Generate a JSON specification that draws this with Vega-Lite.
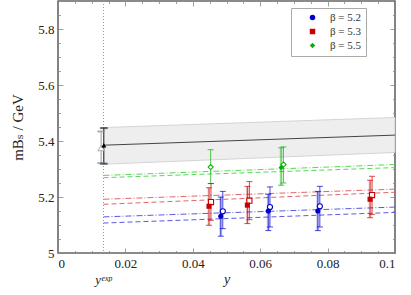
{
  "$schema": "https://vega.github.io/schema/vega-lite/v6.json",
  "width": 337,
  "height": 252,
  "autosize": {"type": "none"},
  "padding": {"left": 58, "top": 1, "right": 16, "bottom": 42},
  "datasets": {
    "pts": [
      {"beta": "β = 5.2", "kind": "filled", "x": 0.0483, "m": 5.131, "lo": 5.06, "hi": 5.20},
      {"beta": "β = 5.2", "kind": "filled", "x": 0.0624, "m": 5.150, "lo": 5.08, "hi": 5.21},
      {"beta": "β = 5.2", "kind": "filled", "x": 0.0771, "m": 5.150, "lo": 5.08, "hi": 5.22},
      {"beta": "β = 5.2", "kind": "open", "x": 0.0489, "m": 5.149, "lo": 5.087, "hi": 5.22},
      {"beta": "β = 5.2", "kind": "open", "x": 0.0629, "m": 5.164, "lo": 5.093, "hi": 5.236},
      {"beta": "β = 5.2", "kind": "open", "x": 0.0777, "m": 5.167, "lo": 5.093, "hi": 5.238},
      {"beta": "β = 5.3", "kind": "filled", "x": 0.0448, "m": 5.167, "lo": 5.099, "hi": 5.233},
      {"beta": "β = 5.3", "kind": "filled", "x": 0.0562, "m": 5.171, "lo": 5.105, "hi": 5.238},
      {"beta": "β = 5.3", "kind": "filled", "x": 0.0926, "m": 5.192, "lo": 5.126, "hi": 5.26},
      {"beta": "β = 5.3", "kind": "open", "x": 0.0454, "m": 5.182, "lo": 5.117, "hi": 5.248},
      {"beta": "β = 5.3", "kind": "open", "x": 0.0568, "m": 5.187, "lo": 5.119, "hi": 5.255},
      {"beta": "β = 5.3", "kind": "open", "x": 0.0932, "m": 5.207, "lo": 5.138, "hi": 5.274},
      {"beta": "β = 5.5", "kind": "filled", "x": 0.0662, "m": 5.305, "lo": 5.242, "hi": 5.376},
      {"beta": "β = 5.5", "kind": "open", "x": 0.0453, "m": 5.307, "lo": 5.248, "hi": 5.369},
      {"beta": "β = 5.5", "kind": "open", "x": 0.0669, "m": 5.316, "lo": 5.25, "hi": 5.379}
    ],
    "fits": [
      {"beta": "β = 5.2", "kind": "open", "x": 0.0135, "m": 5.129},
      {"beta": "β = 5.2", "kind": "open", "x": 0.1, "m": 5.164},
      {"beta": "β = 5.2", "kind": "filled", "x": 0.0135, "m": 5.107},
      {"beta": "β = 5.2", "kind": "filled", "x": 0.1, "m": 5.145},
      {"beta": "β = 5.3", "kind": "open", "x": 0.0135, "m": 5.192},
      {"beta": "β = 5.3", "kind": "open", "x": 0.1, "m": 5.228},
      {"beta": "β = 5.3", "kind": "filled", "x": 0.0135, "m": 5.174},
      {"beta": "β = 5.3", "kind": "filled", "x": 0.1, "m": 5.217},
      {"beta": "β = 5.5", "kind": "open", "x": 0.0135, "m": 5.277},
      {"beta": "β = 5.5", "kind": "open", "x": 0.1, "m": 5.316},
      {"beta": "β = 5.5", "kind": "filled", "x": 0.0135, "m": 5.269},
      {"beta": "β = 5.5", "kind": "filled", "x": 0.1, "m": 5.305}
    ],
    "band": [
      {"x": 0.0135, "m": 5.385, "lo": 5.317, "hi": 5.448},
      {"x": 0.1, "m": 5.421, "lo": 5.359, "hi": 5.484}
    ],
    "phys": [
      {"kind": "open", "x": 0.0128, "m": 5.375, "lo": 5.321, "hi": 5.434},
      {"kind": "filled", "x": 0.0136, "m": 5.385, "lo": 5.319, "hi": 5.446}
    ],
    "exp": [{"x": 0.0135, "m": 5, "label": "yᵉˣᵖ"}]
  },
  "layer": [
    {
      "data": {"name": "band"},
      "mark": {"type": "area", "fill": "#eeeeee", "stroke": "#cccccc", "strokeWidth": 0.8},
      "encoding": {
        "x": {"field": "x", "type": "quantitative", "scale": {"domain": [0, 0.1], "nice": false, "zero": false}, "axis": null},
        "y": {"field": "lo", "type": "quantitative", "scale": {"domain": [5, 5.9], "nice": false, "zero": false}, "axis": null},
        "y2": {"field": "hi"}
      }
    },
    {
      "data": {"name": "band"},
      "mark": {"type": "line", "color": "#444444", "strokeWidth": 1},
      "encoding": {
        "x": {"field": "x", "type": "quantitative", "axis": null},
        "y": {"field": "m", "type": "quantitative", "axis": null}
      }
    },
    {
      "data": {"name": "exp"},
      "mark": {"type": "rule", "color": "#999999", "strokeDash": [1, 2], "strokeWidth": 1},
      "encoding": {
        "x": {"field": "x", "type": "quantitative", "axis": null}
      }
    },
    {
      "data": {"name": "fits"},
      "mark": {"type": "line", "strokeWidth": 1},
      "encoding": {
        "x": {"field": "x", "type": "quantitative", "axis": null},
        "y": {"field": "m", "type": "quantitative", "axis": null},
        "stroke": {"condition": [{"test": "datum.beta == 'β = 5.2'", "value": "#5a5ae6"}, {"test": "datum.beta == 'β = 5.3'", "value": "#e06868"}], "value": "#58d858"},
        "strokeDash": {"condition": {"test": "datum.kind == 'open'", "value": [6, 2, 1, 2]}, "value": [5, 3]},
        "detail": [{"field": "beta"}, {"field": "kind"}]
      }
    },
    {
      "data": {"name": "pts"},
      "transform": [{"filter": "datum.kind == 'filled'"}],
      "mark": {"type": "rule", "strokeWidth": 3, "opacity": 0.22},
      "encoding": {
        "x": {"field": "x", "type": "quantitative", "axis": null},
        "y": {"field": "lo", "type": "quantitative", "axis": null},
        "y2": {"field": "hi"},
        "color": {"condition": [{"test": "datum.beta == 'β = 5.2'", "value": "#0000c8"}, {"test": "datum.beta == 'β = 5.3'", "value": "#c80000"}], "value": "#00b400"}
      }
    },
    {
      "data": {"name": "pts"},
      "mark": {"type": "rule", "strokeWidth": 1, "opacity": 0.7},
      "encoding": {
        "x": {"field": "x", "type": "quantitative", "axis": null},
        "y": {"field": "lo", "type": "quantitative", "axis": null},
        "y2": {"field": "hi"},
        "color": {"condition": [{"test": "datum.beta == 'β = 5.2'", "value": "#0000c8"}, {"test": "datum.beta == 'β = 5.3'", "value": "#c80000"}], "value": "#00b400"}
      }
    },
    {
      "data": {"name": "pts"},
      "mark": {"type": "tick", "orient": "horizontal", "size": 6, "thickness": 1, "opacity": 0.7},
      "encoding": {
        "x": {"field": "x", "type": "quantitative", "axis": null},
        "y": {"field": "lo", "type": "quantitative", "axis": null},
        "color": {"condition": [{"test": "datum.beta == 'β = 5.2'", "value": "#0000c8"}, {"test": "datum.beta == 'β = 5.3'", "value": "#c80000"}], "value": "#00b400"}
      }
    },
    {
      "data": {"name": "pts"},
      "mark": {"type": "tick", "orient": "horizontal", "size": 6, "thickness": 1, "opacity": 0.7},
      "encoding": {
        "x": {"field": "x", "type": "quantitative", "axis": null},
        "y": {"field": "hi", "type": "quantitative", "axis": null},
        "color": {"condition": [{"test": "datum.beta == 'β = 5.2'", "value": "#0000c8"}, {"test": "datum.beta == 'β = 5.3'", "value": "#c80000"}], "value": "#00b400"}
      }
    },
    {
      "data": {"name": "phys"},
      "mark": {"type": "rule", "strokeWidth": 1},
      "encoding": {
        "x": {"field": "x", "type": "quantitative", "axis": null},
        "y": {"field": "lo", "type": "quantitative", "axis": null},
        "y2": {"field": "hi"},
        "stroke": {"condition": {"test": "datum.kind == 'open'", "value": "#999999"}, "value": "#222222"}
      }
    },
    {
      "data": {"name": "phys"},
      "mark": {"type": "tick", "orient": "horizontal", "size": 7, "thickness": 1},
      "encoding": {
        "x": {"field": "x", "type": "quantitative", "axis": null},
        "y": {"field": "lo", "type": "quantitative", "axis": null},
        "stroke": {"condition": {"test": "datum.kind == 'open'", "value": "#999999"}, "value": "#222222"}
      }
    },
    {
      "data": {"name": "phys"},
      "mark": {"type": "tick", "orient": "horizontal", "size": 7, "thickness": 1},
      "encoding": {
        "x": {"field": "x", "type": "quantitative", "axis": null},
        "y": {"field": "hi", "type": "quantitative", "axis": null},
        "stroke": {"condition": {"test": "datum.kind == 'open'", "value": "#999999"}, "value": "#222222"}
      }
    },
    {
      "data": {"name": "phys"},
      "transform": [{"filter": "datum.kind == 'open'"}],
      "mark": {"type": "point", "shape": "triangle-up", "filled": false, "fill": "white", "fillOpacity": 1, "stroke": "#aaaaaa", "size": 40, "strokeWidth": 1},
      "encoding": {
        "x": {"field": "x", "type": "quantitative", "axis": null},
        "y": {"field": "m", "type": "quantitative", "axis": null}
      }
    },
    {
      "data": {"name": "phys"},
      "transform": [{"filter": "datum.kind == 'filled'"}],
      "mark": {"type": "point", "shape": "triangle-up", "filled": true, "fill": "black", "opacity": 1, "size": 26},
      "encoding": {
        "x": {"field": "x", "type": "quantitative", "axis": null},
        "y": {"field": "m", "type": "quantitative", "axis": null}
      }
    },
    {
      "data": {"name": "pts"},
      "transform": [{"filter": "datum.kind == 'open'"}],
      "mark": {"type": "point", "filled": false, "fill": "white", "fillOpacity": 1, "size": 26, "strokeWidth": 1.1, "opacity": 1},
      "encoding": {
        "x": {"field": "x", "type": "quantitative", "axis": null},
        "y": {"field": "m", "type": "quantitative", "axis": null},
        "stroke": {"field": "beta", "type": "nominal", "title": null, "scale": {"range": ["#0000c8", "#c80000", "#00b400"]},
          "legend": {"title": null, "orient": "none", "legendX": 299, "legendY": 11, "padding": 0, "strokeColor": null, "fillColor": null, "symbolSize": 30, "symbolStrokeWidth": 1.1, "labelExpr": "''", "labelOffset": 0, "labelFontSize": 11, "rowPadding": 1}},
        "shape": {"field": "beta", "type": "nominal", "title": null, "scale": {"range": ["circle", "square", "diamond"]}}
      }
    },
    {
      "data": {"name": "pts"},
      "transform": [{"filter": "datum.kind == 'filled'"}],
      "mark": {"type": "point", "filled": true, "size": 26, "opacity": 1},
      "encoding": {
        "x": {"field": "x", "type": "quantitative", "axis": null},
        "y": {"field": "m", "type": "quantitative", "axis": null},
        "fill": {"field": "beta", "type": "nominal", "title": null, "scale": {"domain": ["β = 5.2", "β = 5.3", "β = 5.5"], "range": ["#0000c8", "#c80000", "#00b400"]},
          "legend": {"title": null, "orient": "none", "legendX": 233, "legendY": 7, "padding": 4, "strokeColor": "#aaaaaa", "fillColor": "white", "symbolSize": 30, "symbolOffset": 12, "labelOffset": 12, "rowPadding": 1,
            "labelFont": "Liberation Serif, DejaVu Serif, serif", "labelFontSize": 11, "labelColor": "#333333",
            "labelExpr": "datum.label + '\u00a0\u00a0\u00a0\u00a0\u00a0\u00a0\u00a0\u00a0'"}},
        "shape": {"field": "beta", "type": "nominal", "title": null, "scale": {"domain": ["β = 5.2", "β = 5.3", "β = 5.5"], "range": ["circle", "square", "diamond"]}}
      }
    },
    {
      "data": {"name": "exp"},
      "mark": {"type": "text", "dy": 27, "font": "Liberation Serif, DejaVu Serif, serif", "fontSize": 13, "fontStyle": "italic", "color": "#222222", "baseline": "middle"},
      "encoding": {
        "x": {"field": "x", "type": "quantitative", "axis": null},
        "y": {"field": "m", "type": "quantitative", "axis": null},
        "text": {"field": "label"}
      }
    },
    {
      "data": {"name": "band"},
      "mark": {"type": "point", "opacity": 0},
      "encoding": {
        "x": {"field": "x", "type": "quantitative", "axis": {"orient": "bottom", "values": [0, 0.02, 0.04, 0.06, 0.08, 0.1], "format": "~g", "tickSize": -5, "labelPadding": 9, "title": "y", "titleFontStyle": "italic", "titlePadding": 2}},
        "y": {"field": "m", "type": "quantitative", "axis": {"orient": "left", "values": [5, 5.2, 5.4, 5.6, 5.8], "format": "~g", "tickSize": -5, "labelPadding": 9, "title": "mBₛ / GeV", "titleFontSize": 15, "titlePadding": 12}}
      }
    },
    {
      "data": {"name": "band"},
      "mark": {"type": "point", "opacity": 0},
      "encoding": {
        "x": {"field": "x", "type": "quantitative", "axis": {"orient": "bottom", "values": [0.005, 0.01, 0.015, 0.025, 0.03, 0.035, 0.045, 0.05, 0.055, 0.065, 0.07, 0.075, 0.085, 0.09, 0.095], "tickSize": -2.5, "labels": false, "title": null}},
        "y": {"field": "m", "type": "quantitative", "axis": {"orient": "left", "values": [5.05, 5.1, 5.15, 5.25, 5.3, 5.35, 5.45, 5.5, 5.55, 5.65, 5.7, 5.75, 5.85], "tickSize": -2.5, "labels": false, "title": null}}
      }
    },
    {
      "data": {"name": "band"},
      "mark": {"type": "point", "opacity": 0},
      "encoding": {
        "x": {"field": "x", "type": "quantitative", "axis": {"orient": "top", "values": [0, 0.02, 0.04, 0.06, 0.08, 0.1], "tickSize": -5, "labels": false, "title": null}},
        "y": {"field": "m", "type": "quantitative", "axis": {"orient": "right", "values": [5, 5.2, 5.4, 5.6, 5.8], "tickSize": -5, "labels": false, "title": null}}
      }
    },
    {
      "data": {"name": "band"},
      "mark": {"type": "point", "opacity": 0},
      "encoding": {
        "x": {"field": "x", "type": "quantitative", "axis": {"orient": "top", "values": [0.005, 0.01, 0.015, 0.025, 0.03, 0.035, 0.045, 0.05, 0.055, 0.065, 0.07, 0.075, 0.085, 0.09, 0.095], "tickSize": -2.5, "labels": false, "title": null}},
        "y": {"field": "m", "type": "quantitative", "axis": {"orient": "right", "values": [5.05, 5.1, 5.15, 5.25, 5.3, 5.35, 5.45, 5.5, 5.55, 5.65, 5.7, 5.75, 5.85], "tickSize": -2.5, "labels": false, "title": null}}
      }
    }
  ],
  "resolve": {"axis": {"x": "independent", "y": "independent"}, "scale": {"shape": "independent", "fill": "independent", "stroke": "independent"}},
  "config": {
    "view": {"stroke": "#666666", "strokeWidth": 1.6},
    "axis": {"grid": false, "domain": false, "tickColor": "#888888", "tickWidth": 0.8, "labelFont": "Liberation Serif, DejaVu Serif, serif", "labelFontSize": 13, "labelColor": "#222222", "titleFont": "Liberation Serif, DejaVu Serif, serif", "titleFontSize": 14, "titleFontWeight": "normal", "titleColor": "#222222"},
    "legend": {"labelFont": "Liberation Serif, DejaVu Serif, serif"}
  }
}
